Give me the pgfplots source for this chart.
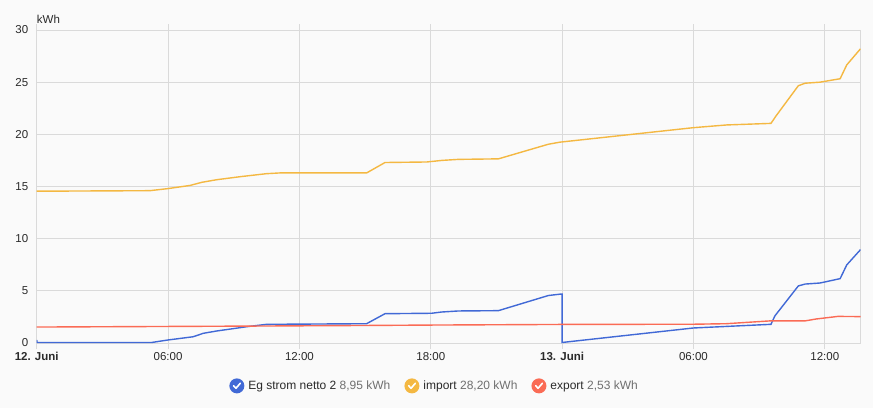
\documentclass[border=0pt]{standalone}
\usepackage{pgfplots}
\pgfplotsset{compat=1.18}
\usepackage{fontspec}
\setmainfont{Liberation Sans}
\definecolor{bg}{HTML}{FAFAFA}
\definecolor{gridc}{HTML}{DADADA}
\definecolor{cblue}{HTML}{4169D6}
\definecolor{cyellow}{HTML}{F4B842}
\definecolor{cred}{HTML}{FA6B55}
\definecolor{valgray}{HTML}{6F6F6F}
\definecolor{txt}{HTML}{2A2A2A}
\begin{document}
\begin{tikzpicture}
\fill[bg] (0pt,0pt) rectangle (873pt,408pt);
\useasboundingbox (0pt,0pt) rectangle (873pt,408pt);
\begin{axis}[
  at={(36.7pt,65pt)}, anchor=south west,
  scale only axis, width=823.8pt, height=313pt,
  xmin=0, xmax=37.63, ymin=0, ymax=30,
  ytick={0,5,10,15,20,25,30},
  xtick={0,6,12,18,24,30,36},
  xticklabels={\textbf{12. Juni},06:00,12:00,18:00,\textbf{13. Juni},06:00,12:00},
  grid=major,
  major grid style={gridc, line width=0.8pt},
  axis line style={gridc, line width=0.8pt},
  tick align=outside,
  xtick style={gridc, line width=0.8pt},
  major tick length=6pt,
  ytick style={draw=none},
  tick label style={font=\fontsize{11.5}{13}\selectfont, text=txt},
  /pgf/number format/assume math mode=true,
  yticklabel style={xshift=1pt},
  ylabel={kWh},
  ylabel style={rotate=-90, at={(axis description cs:0,1)}, anchor=south west, font=\fontsize{11.5}{13}\selectfont, text=txt, inner sep=0pt, yshift=6pt},
  legend columns=3,
  legend style={at={(0.483,-0.137)}, anchor=center, draw=none, fill=none,
    font=\fontsize{12}{14}\selectfont, text=txt,
    /tikz/every even column/.append style={column sep=12pt},
    /tikz/every odd column/.append style={column sep=2pt}},
  legend cell align=left,
  legend image code/.code={
    \fill[#1, draw=none] (7.5pt,0pt) circle (7.5pt);
    \draw[white, line width=1.6pt, line cap=round, line join=round]
      (4.2pt,0.2pt) -- (6.6pt,-2.4pt) -- (10.9pt,2.6pt);
  },
]
\addplot[cblue, line width=1.4pt] coordinates {
(0,0.3) (0.02,0.05) (5.25,0.05) (6.0,0.29) (7.15,0.6) (7.61,0.93) (8.22,1.15)
(9.59,1.56) (10.5,1.79) (15.07,1.85) (15.91,2.81) (18.04,2.85) (18.5,2.97)
(19.26,3.07) (21.09,3.1) (23.37,4.55) (23.98,4.7) (24.0,4.7) (24.0,0.05)
(30.0,1.44) (33.54,1.79) (33.72,2.6) (34.79,5.47) (35.1,5.65) (35.78,5.75)
(36.7,6.17) (37.0,7.48) (37.63,8.95)
};
\addlegendentry{Eg strom netto 2 \textcolor{valgray}{8,95 kWh}}
\addplot[cyellow, line width=1.4pt] coordinates {
(0,14.55) (5.17,14.6) (6.0,14.8) (7.0,15.1) (7.54,15.4) (8.22,15.65)
(9.29,15.94) (10.5,16.23) (11.1,16.3) (15.07,16.3) (15.91,17.3) (17.82,17.35)
(18.5,17.5) (19.26,17.6) (21.09,17.65) (23.37,19.05) (23.9,19.25) (30.0,20.64)
(31.52,20.9) (33.54,21.05) (33.77,21.76) (34.79,24.66) (35.1,24.9) (35.78,25.0)
(36.7,25.33) (37.0,26.65) (37.63,28.2)
};
\addlegendentry{import \textcolor{valgray}{28,20 kWh}}
\addplot[cred, line width=1.4pt] coordinates {
(0,1.53) (9.6,1.62) (15,1.68) (18,1.72) (24,1.78) (30,1.8) (31.5,1.85)
(33.5,2.12) (35.1,2.12) (35.6,2.3) (36.6,2.55) (37.63,2.53)
};
\addlegendentry{export \textcolor{valgray}{2,53 kWh}}
\end{axis}
\end{tikzpicture}
\end{document}
